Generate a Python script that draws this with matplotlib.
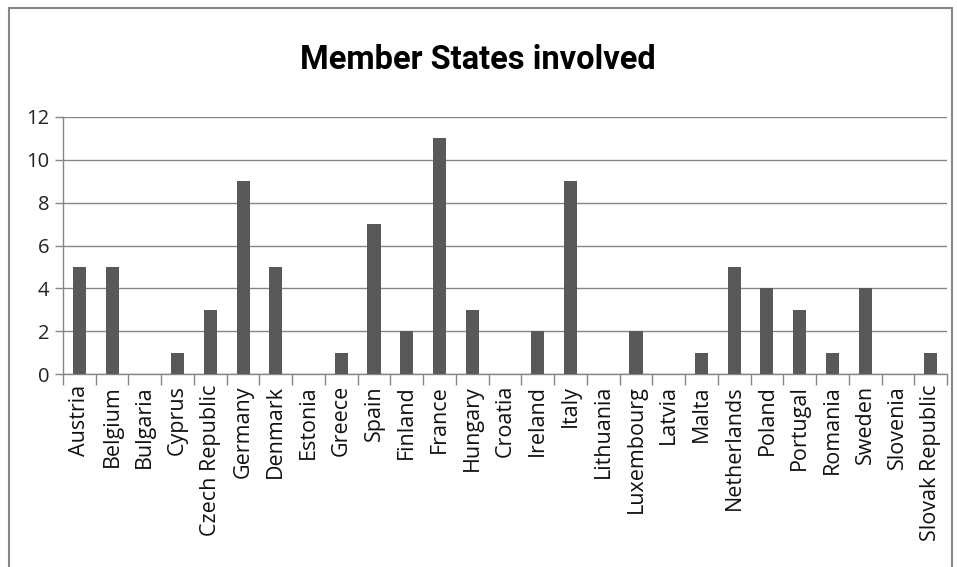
import matplotlib
matplotlib.use("Agg")
import matplotlib.pyplot as plt
from matplotlib.patches import Rectangle

countries = ["Austria", "Belgium", "Bulgaria", "Cyprus", "Czech Republic", "Germany",
             "Denmark", "Estonia", "Greece", "Spain", "Finland", "France", "Hungary",
             "Croatia", "Ireland", "Italy", "Lithuania", "Luxembourg", "Latvia", "Malta",
             "Netherlands", "Poland", "Portugal", "Romania", "Sweden", "Slovenia",
             "Slovak Republic"]
values = [5, 5, 0, 1, 3, 9, 5, 0, 1, 7, 2, 11, 3, 0, 2, 9, 0, 2, 0, 1, 5, 4, 3, 1, 4, 0, 1]
yticks = [0, 2, 4, 6, 8, 10, 12]

W, H = 957, 567
fig = plt.figure(figsize=(W / 100, H / 100), dpi=100)
fig.patch.set_facecolor("white")

# outer chart border (bottom edge lies outside the picture)
fig.add_artist(Rectangle((8.5 / W, -0.05), (952 - 8.5) / W, 1.05 - 7.5 / H,
                         transform=fig.transFigure, fill=False,
                         edgecolor="#878787", linewidth=1.5, clip_on=False))

ax = fig.add_axes([63 / W, 1 - 374 / H, (947 - 63) / W, (374 - 117) / H])
gray = "#868686"
x = list(range(len(countries)))
ax.bar(x, values, width=0.4, color="#595959", zorder=3)
ax.set_xlim(-0.5, len(countries) - 0.5)
ax.set_ylim(0, 12)
ax.set_yticks(yticks)
ax.set_yticklabels([str(v) for v in yticks], fontsize=14.5, family="Open Sans", color="#222222")
ax.grid(axis="y", color=gray, linewidth=1, zorder=0)
ax.set_xticks([i - 0.5 for i in range(len(countries) + 1)], minor=False)
ax.set_xticklabels([""] * (len(countries) + 1))
ax.set_xticks(x, minor=True)
ax.set_xticklabels(countries, minor=True, rotation=90, fontsize=15.5,
                   family="Open Sans", color="#111111")
ax.tick_params(axis="x", which="minor", length=0, pad=8)
ax.tick_params(axis="x", which="major", length=8, color=gray, width=1)
ax.tick_params(axis="y", length=6, color=gray, width=1, pad=4)
for s in ["top", "right"]:
    ax.spines[s].set_visible(False)
for s in ["left", "bottom"]:
    ax.spines[s].set_color(gray)
    ax.spines[s].set_linewidth(1)

fig.text(478 / W, 1 - 69 / H, "Member States involved", ha="center", va="baseline",
         fontsize=23.5, fontweight="bold", family="Roboto", color="#000000")

fig.savefig("out.png", dpi=100)
